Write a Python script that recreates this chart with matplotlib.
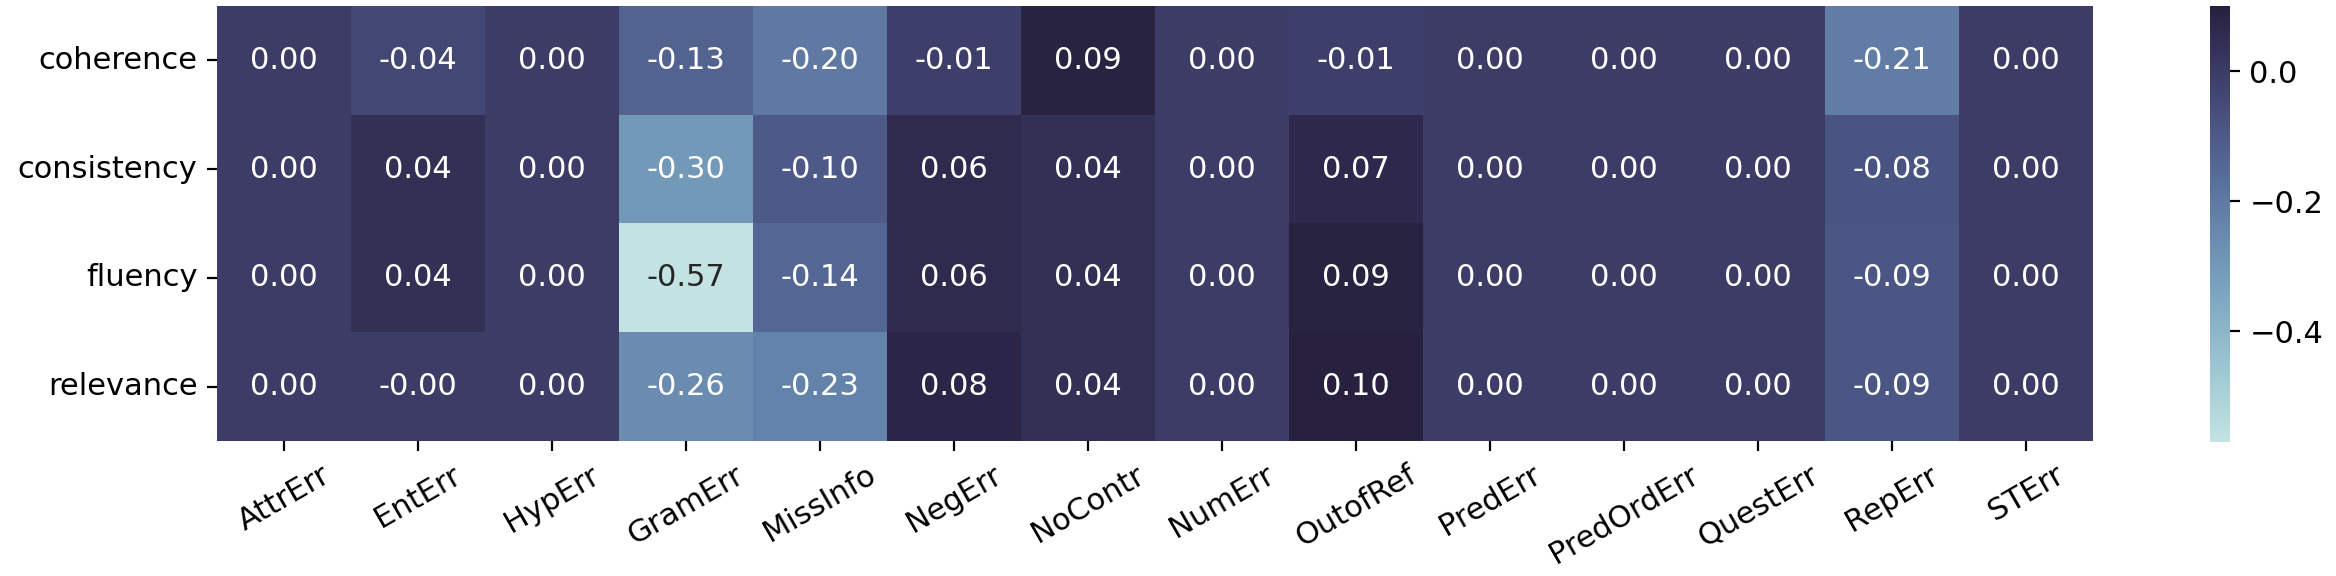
import numpy as np
import pandas as pd
import seaborn as sns
import matplotlib
matplotlib.use("Agg")
import matplotlib.pyplot as plt
from matplotlib.ticker import MultipleLocator

metrics = ["coherence", "consistency", "fluency", "relevance"]
error_types = ["AttrErr", "EntErr", "HypErr", "GramErr", "MissInfo", "NegErr", "NoContr",
               "NumErr", "OutofRef", "PredErr", "PredOrdErr", "QuestErr", "RepErr", "STErr"]

coherence = [0.00, -0.04, 0.00, -0.13, -0.20, -0.01, 0.09, 0.00, -0.01, 0.00, 0.00, 0.00, -0.21, 0.00]
consistency = [0.00, 0.04, 0.00, -0.30, -0.10, 0.06, 0.04, 0.00, 0.07, 0.00, 0.00, 0.00, -0.08, 0.00]
fluency = [0.00, 0.04, 0.00, -0.57, -0.14, 0.06, 0.04, 0.00, 0.09, 0.00, 0.00, 0.00, -0.09, 0.00]
relevance = [0.00, -0.004, 0.00, -0.26, -0.23, 0.08, 0.04, 0.00, 0.10, 0.00, 0.00, 0.00, -0.09, 0.00]

df = pd.DataFrame([coherence, consistency, fluency, relevance], index=metrics, columns=error_types)

fig = plt.figure(figsize=(11.68, 2.88), dpi=200)
ax = fig.add_axes([0.0929, 0.2344, 0.8031, 0.7552])
cax = fig.add_axes([0.946, 0.2326, 0.00856, 0.757])

cmap = sns.color_palette("ch:start=.2,rot=-.3", as_cmap=True)
sns.heatmap(df, ax=ax, cbar_ax=cax, cmap=cmap, annot=True, fmt=".2f",
            annot_kws={"fontsize": 11})

ax.set_xticklabels(error_types, rotation=30, fontsize=11)
ax.set_yticklabels(metrics, rotation=0, fontsize=11)
cax.yaxis.set_major_locator(MultipleLocator(0.2))
cax.tick_params(labelsize=11)

fig.savefig("out.png", dpi=200)
